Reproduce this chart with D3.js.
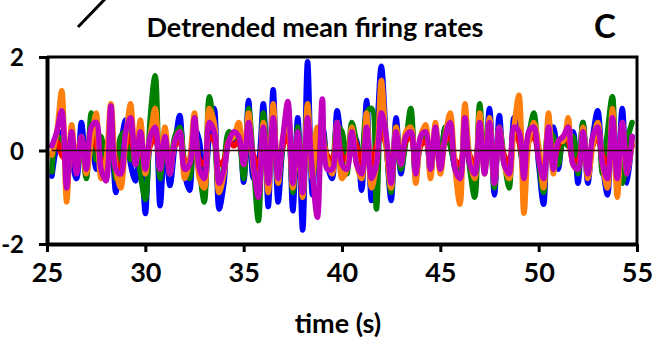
<!DOCTYPE html>
<html>
<head>
<meta charset="utf-8">
<script src="https://cdn.jsdelivr.net/npm/d3@7"></script>
<style>
  html, body { margin: 0; padding: 0; background: #fff; }
  svg { display: block; }
  text { font-family: Lato, "Open Sans", sans-serif; font-weight: 700; fill: #000; }
</style>
</head>
<body>
<svg id="chart" width="652" height="343"></svg>
<script>
// Sampling grid of the detrended rates (seconds)
const tStart = 25.25;
const tStep = 0.25;

// Detrended mean firing rates, one array per population
const blue = [-0.55, 0.1, 0.4, -0.2,
  -0.3, -0.6, 0.6, -0.3,
  0.3, -0.4, 0.2, -0.5,
  0.4, -0.9, 0.1, 0.65,
  -0.3, -0.65, 0.3, -1.35,
  0.2, 0.5, -1.18, 0.2,
  -0.75, 0.1, 0.75, -0.5,
  -0.85, 0.5, 0.2, -0.9,
  0.3, 0.9, -1.25, -0.7,
  0.3, 0.2, 0.45, -0.68,
  1.07, -0.6, -0.3, 1.0,
  -1.2, 1.3, -1.1, 0.2,
  0.9, -1.29, 0.7, -1.7,
  1.9, -0.95, 0.3, 0.5,
  -0.3, -0.6, 0.85, 0.1,
  -0.4, 0.4, 0.2, -0.85,
  1.07, -1.07, 0.2, 1.8,
  0.2, -1.07, 0.7, -0.5,
  0.3, 0.6, -0.6, 0.2,
  0.4, -0.5, 0.3, -0.3,
  0.5, 0.2, -0.4, -0.6,
  0.6, -0.3, -0.7, 0.7,
  -0.4, 0.9, -0.95, 0.75,
  -0.3, -0.5, 0.7, 0.3,
  -0.5, 0.4, 0.6, -0.3,
  -1.15, 0.3, 0.5, -0.4,
  0.3, 0.1, 0.4, -0.7,
  0.6, -0.7, 0.3, 0.85,
  -0.3, -0.95, 0.6, -0.6,
  0.9, -0.7, 0.3];

const green = [-0.45, 0.3, 0.2, -0.1,
  0.3, -0.3, 0.1, -0.6,
  0.8, -0.2, 0.3, -0.4,
  0.5, -0.6, 0.3, 0.4,
  -0.2, 0.3, -0.5, -1.05,
  0.7, 1.6, -0.6, 0.3,
  -0.4, 0.3, 0.5, -0.3,
  -0.6, 0.5, -0.4, -1.1,
  1.15, 0.4, -0.9, -0.3,
  0.4, 0.3, 0.2, -0.6,
  0.9, -0.3, -1.5, 0.8,
  -0.6, 0.8, -0.7, 0.1,
  0.6, -0.9, 0.5, -1.0,
  1.0, -0.6, 0.2, 0.4,
  -0.2, -0.4, 0.5, 0.4,
  -0.5, 0.6, 0.1, -0.6,
  0.8, 0.9, -1.25, 1.2,
  0.1, -0.9, 0.5, -0.4,
  0.2, 0.9, -0.5, 0.2,
  0.3, -0.4, 0.4, -0.2,
  0.5, 0.1, -0.3, -0.5,
  0.5, -0.4, -1.0, 1.0,
  -0.3, 0.6, -0.8, 0.5,
  -0.2, -0.8, 0.5, 0.2,
  -0.4, 0.3, 0.8, -0.2,
  -0.9, 0.4, 0.3, -0.3,
  0.2, 0.1, 0.3, -0.5,
  0.6, -0.5, 0.2, 0.6,
  -0.5, 0.4, 1.15, -0.5,
  -0.7, 0.2, 0.6];

const red = [0.1, 0.2, -0.1, -0.2,
  0.25, -0.1, 0.2, -0.3,
  0.3, 0.1, -0.2, -0.3,
  0.4, -0.2, -0.4, 0.1,
  0.3, -0.2, 0.2, -0.3,
  0.1, 0.3, -0.2, 0.2,
  -0.3, 0.1, 0.2, -0.2,
  -0.2, 0.3, -0.2, -0.3,
  0.3, 0.2, -0.3, -0.2,
  0.2, 0.1, 0.2, -0.2,
  0.3, -0.1, -0.4, 0.3,
  -0.3, 0.4, -0.3, 0.1,
  0.3, -0.3, 0.2, -0.4,
  0.4, -0.3, 0.1, 0.2,
  -0.1, -0.2, 0.3, -0.1,
  -0.2, 0.3, 0.1, -0.3,
  0.3, -0.3, 0.1, 0.4,
  0.1, -0.3, 0.2, -0.2,
  0.2, 0.3, -0.3, 0.1,
  0.2, -0.2, 0.3, -0.2,
  0.2, 0.3, -0.2, -0.3,
  0.3, -0.1, -0.3, 0.3,
  -0.2, 0.3, -0.3, 0.3,
  -0.1, -0.3, 0.4, 0.2,
  -0.3, 0.2, 0.3, -0.1,
  -0.4, 0.3, -0.2, 0.1,
  0.3, 0.2, -0.2, -0.2,
  0.2, -0.3, 0.1, 0.3,
  -0.1, -0.3, 0.3, -0.3,
  0.3, -0.2, 0.1];

const orange = [-0.1, 0.4, 1.28, -1.1,
  0.55, -0.4, 0.3, -0.5,
  0.2, 0.8, -0.6, -0.2,
  1.0, -0.4, -0.8, 0.2,
  1.0, -0.3, 0.65, -0.5,
  0.3, 0.9, -0.4, 0.5,
  -0.5, 0.2, 0.4, -0.6,
  -0.2, 0.8, -0.6, -0.8,
  0.9, 0.6, -0.9, -0.5,
  0.2, 0.3, 0.6, -0.3,
  0.8, -0.4, -0.8, 0.6,
  -0.9, 1.0, -0.7, 0.3,
  0.6, -0.8, 0.3, -1.0,
  1.0, -0.6, 0.5, 0.3,
  -0.2, -0.5, 0.6, -0.6,
  -0.4, 0.5, -0.3, -0.6,
  0.8, -0.8, -0.3, 1.5,
  0.1, -0.8, 0.5, -0.3,
  0.4, 0.5, -0.7, 0.3,
  0.55, -0.6, 0.6, -0.5,
  0.3, 0.8, -0.4, -1.15,
  1.0, -0.2, -0.6, 0.8,
  -0.5, 0.7, -0.7, 0.5,
  -0.3, -0.6, 0.5, 1.18,
  -1.34, 0.2, 0.6, 0.1,
  -0.8, 0.8, -0.5, 0.2,
  0.2, 0.7, -0.3, -0.4,
  0.5, -0.6, 0.1, 0.6,
  -0.3, -0.8, 0.9, -1.0,
  0.6, -0.5, 0.2];

const magenta = [0.1, 0.4, 0.85, -0.8,
  0.4, -0.5, 0.3, -0.4,
  0.5, 0.6, -0.4, -0.65,
  0.95, -0.4, -0.5, 0.4,
  0.7, -0.3, 0.4, -0.4,
  0.3, 0.5, -0.4, 0.3,
  -0.5, 0.2, 0.4, -0.4,
  -0.3, 0.7, -0.4, -0.6,
  0.6, 0.4, -0.7, -0.4,
  0.2, 0.4, 0.3, -0.3,
  0.6, -0.3, -1.0, 0.5,
  -0.7, 0.7, -0.6, 0.3,
  1.05, -0.7, 0.4, -0.9,
  0.7, -0.5, -1.43, 1.1,
  -0.4, -0.4, 0.6, -0.3,
  -0.4, 0.4, -0.3, -0.5,
  0.5, -0.6, -0.3, 0.8,
  0.3, -0.7, 0.4, -0.3,
  0.3, 0.4, -0.5, 0.3,
  0.4, -0.4, 0.5, -0.4,
  0.3, 0.6, -0.4, -0.6,
  0.7, -0.3, -0.5, 0.6,
  -0.5, 0.6, -0.7, 0.5,
  -0.3, -0.5, 0.5, 0.4,
  -0.6, 0.4, 0.5, -0.2,
  -0.6, 0.5, -0.4, 0.2,
  0.3, 0.5, -0.3, -0.4,
  0.4, -0.5, 0.3, 0.5,
  -0.3, -0.6, 0.7, -0.6,
  0.6, -0.5, 0.3];

// Axis ticks
const xTicks = [25, 30, 35, 40, 45, 50, 55];
const yTicks = [-2, 0, 2];

// Drawing order: first array ends up at the back
const seriesList = [
  { name: "blue", values: blue, color: "#0000ff" },
  { name: "green", values: green, color: "#008000" },
  { name: "red", values: red, color: "#ff0000" },
  { name: "orange", values: orange, color: "#ff7f0e" },
  { name: "magenta", values: magenta, color: "#bf00bf" }
];

const svg = d3.select("#chart");
const plotL = 47, plotR = 637, plotT = 57, plotB = 244;

const x = d3.scaleLinear().domain([25, 55]).range([plotL, plotR]);
const y = d3.scaleLinear().domain([-2, 2]).range([plotB, plotT]);

const times = blue.map((_, i) => tStart + i * tStep);

const line = d3.line()
  .x((d, i) => x(times[i]))
  .y(d => y(d))
  .curve(d3.curveCatmullRom.alpha(0.5));

// Traces
const traces = svg.append("g");
seriesList.forEach(s => {
  traces.append("path")
    .datum(s.values)
    .attr("fill", "none")
    .attr("stroke", s.color)
    .attr("stroke-width", 5.5)
    .attr("stroke-linejoin", "round")
    .attr("stroke-linecap", "round")
    .attr("d", line);
});

// Zero baseline on top of the traces
svg.append("line")
  .attr("x1", x(times[0])).attr("x2", x(times[times.length - 1]))
  .attr("y1", y(0)).attr("y2", y(0))
  .attr("stroke", "#2a0a0a").attr("stroke-width", 1.5);

// Frame (top and right)
svg.append("path")
  .attr("d", `M${plotL},${plotT}H${plotR}V${plotB}`)
  .attr("fill", "none").attr("stroke", "#000").attr("stroke-width", 3);

// Axes (plain hyphen for negative labels)
const plainLabel = d => String(d);
const xAxis = svg.append("g")
  .attr("transform", `translate(0,${plotB})`)
  .call(d3.axisBottom(x).tickValues(xTicks).tickSize(8).tickSizeOuter(0).tickPadding(11).tickFormat(plainLabel));
const yAxis = svg.append("g")
  .attr("transform", `translate(${plotL},0)`)
  .call(d3.axisLeft(y).tickValues(yTicks).tickSize(8).tickSizeOuter(0).tickPadding(15).tickFormat(plainLabel));

[xAxis, yAxis].forEach(g => {
  g.attr("font-family", null).attr("font-size", null);
  g.select(".domain").attr("stroke", "#000").attr("stroke-width", 4);
  g.selectAll(".tick line").attr("stroke", "#000").attr("stroke-width", 3);
  g.selectAll(".tick text").style("font-size", "27px");
});
yAxis.selectAll(".tick text")
  .attr("dy", "0.36em")
  .style("font-size", "24px");

// Titles and panel letter
svg.append("text")
  .attr("x", 315).attr("y", 37)
  .attr("text-anchor", "middle")
  .style("font-size", "27px")
  .text("Detrended mean firing rates");

svg.append("text")
  .attr("x", 605).attr("y", 38)
  .attr("text-anchor", "middle")
  .style("font-size", "33px")
  .text("C");

svg.append("text")
  .attr("x", 338).attr("y", 333)
  .attr("text-anchor", "middle")
  .style("font-size", "27px")
  .text("time (s)");

// Edge of the neighbouring panel's arrow
svg.append("line")
  .attr("x1", 78).attr("y1", 27).attr("x2", 106).attr("y2", -2)
  .attr("stroke", "#000").attr("stroke-width", 3);
</script>
</body>
</html>
